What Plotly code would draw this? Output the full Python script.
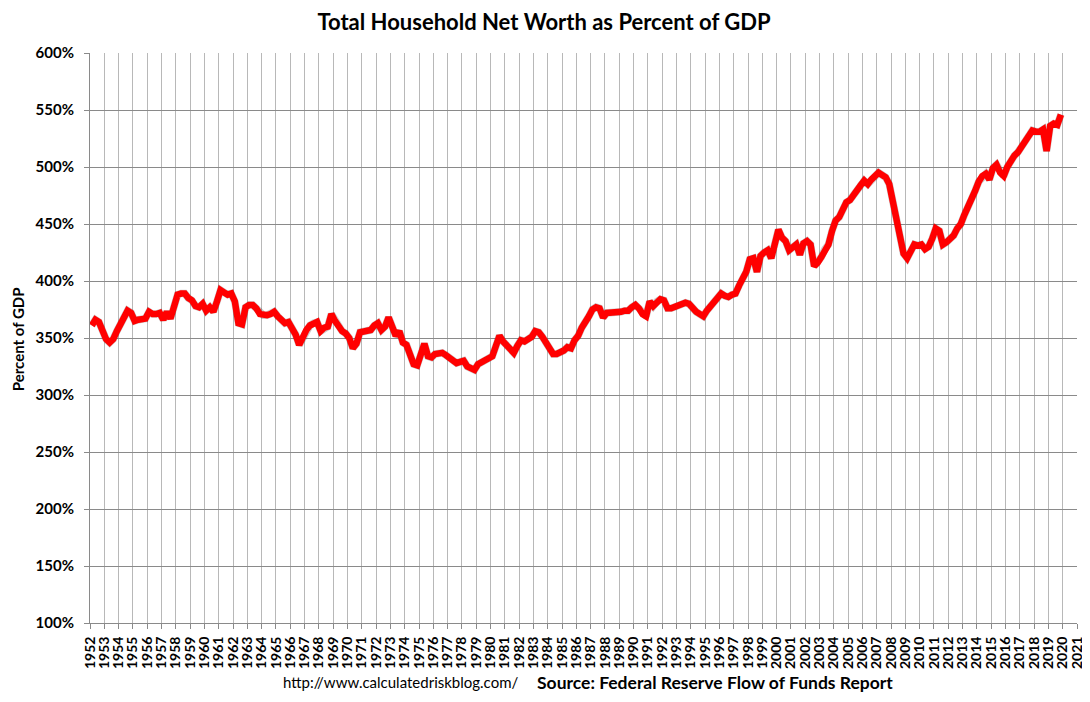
import plotly.graph_objects as go

chart_title = "Total Household Net Worth as Percent of GDP"
y_title = "Percent of GDP"
source_url = "http://www.calculatedriskblog.com/"
source_text = "Source: Federal Reserve Flow of Funds Report"

first_year = 1952
year_ticks = list(range(1952, 2022))
pct_ticks = list(range(100, 601, 50))

# quarterly values (Q1..Q4), percent of GDP
nw_1950s = [
    361, 366, 364, 355,  # 1952
    349, 346, 349, 356,
    362, 369, 374, 372,
    365, 366, 366, 367,
    373, 371, 371, 372,
    366, 373, 367, 378,
    388, 389, 389, 385,
    383, 378, 377, 380,  # 1959
]
nw_1960s = [
    374, 377, 373, 382,
    392, 390, 388, 389,
    382, 363, 362, 377,
    379, 379, 376, 371,
    370, 370, 371, 373,
    369, 365, 363, 364,
    359, 353, 344, 351,
    357, 361, 363, 364,
    356, 359, 360, 371,
    365, 360, 356, 354,
]
nw_1970s = [
    350, 341, 345, 355,
    356, 356, 357, 361,
    363, 357, 360, 368,
    360, 352, 356, 346,
    344, 336, 327, 326,
    338, 345, 334, 333,
    336, 337, 337, 335,
    333, 331, 328, 329,
    330, 325, 324, 322,
    327, 329, 331, 333,
]
nw_1980s = [
    334, 343, 352, 347,
    343, 340, 337, 343,
    348, 347, 349, 351,
    356, 355, 351, 345,
    340, 336, 336, 337,
    339, 342, 341, 348,
    352, 359, 363, 369,
    375, 377, 376, 368,
    372, 372, 373, 373,
    373, 374, 374, 377,
]
nw_1990s = [
    379, 376, 371, 369,
    382, 378, 382, 384,
    383, 376, 376, 377,
    379, 380, 381, 380,
    376, 373, 371, 369,
    374, 378, 382, 386,
    389, 387, 386, 388,
    389, 396, 401, 408,
    419, 420, 408, 422,
    425, 427, 420, 436,
]
nw_2000s = [
    445, 438, 435, 427,
    429, 432, 423, 433,
    435, 432, 413, 416,
    421, 428, 432, 444,
    453, 456, 462, 469,
    471, 476, 480, 484,
    488, 485, 489, 492,
    495, 493, 491, 485,
    470, 456, 438, 424,
    420, 425, 432, 431,
]
nw_2010s = [
    432, 428, 430, 437,
    446, 444, 432, 434,
    437, 440, 446, 450,
    458, 464, 470, 479,
    487, 492, 494, 489,
    499, 502, 495, 492,
    500, 506, 510, 513,
    518, 523, 528, 532,
    531, 531, 533, 514,
    536, 538, 537, 546,  # 2019
]

net_worth = nw_1950s + nw_1960s + nw_1970s + nw_1980s + nw_1990s + nw_2000s + nw_2010s
# points sit in the middle of each quarter
quarters = [first_year + (i + 0.5) / 4 for i in range(len(net_worth))]

FONT = "Lato, Carlito, Calibri, sans-serif"
H_GRID = "#8a8a8a"
V_GRID = "#b8b8b8"

# page body adds an 8px margin, so the figure is 8px smaller each way
W, H = 1082, 694
M_L, M_R, M_T, M_B = 82, 10, 45, 76

fig = go.Figure()

# base subplot carries the grid; an invisible copy keeps it alive
fig.add_trace(
    go.Scatter(
        x=quarters,
        y=net_worth,
        mode="lines",
        line=dict(color="#ff0000", width=1),
        opacity=0,
        hoverinfo="skip",
        showlegend=False,
    )
)

# soft drop shadow, drawn on axes nudged a few pixels right/down
fig.add_trace(
    go.Scatter(
        x=quarters,
        y=net_worth,
        mode="lines",
        line=dict(color="rgba(0,0,0,0.2)", width=7.5),
        hoverinfo="skip",
        showlegend=False,
        xaxis="x2",
        yaxis="y2",
    )
)

# the red series on top, aligned with the gridded axes
fig.add_trace(
    go.Scatter(
        x=quarters,
        y=net_worth,
        mode="lines",
        name="Net Worth / GDP",
        line=dict(color="#ff0000", width=6.5),
        showlegend=False,
        xaxis="x3",
        yaxis="y3",
    )
)

plot_w = W - M_L - M_R
plot_h = H - M_T - M_B
main_x = [0, 1 - 3 / plot_w]
main_y = [3 / plot_h, 1]

fig.update_layout(
    width=W,
    height=H,
    margin=dict(l=M_L, r=M_R, t=M_T, b=M_B),
    paper_bgcolor="white",
    plot_bgcolor="white",
    font=dict(family=FONT, color="black"),
    title=dict(
        text=chart_title,
        x=0.4954,
        xanchor="center",
        y=0.979,
        yanchor="middle",
        font=dict(size=22, family=FONT, weight="bold"),
    ),
    xaxis=dict(
        domain=main_x,
        range=[1952, 2021],
        tickvals=year_ticks,
        ticktext=[str(y) for y in year_ticks],
        tickangle=-90,
        tickfont=dict(size=14, family=FONT, weight="bold"),
        ticklabelstandoff=2,
        showgrid=True,
        gridcolor=V_GRID,
        gridwidth=1,
        ticks="outside",
        ticklen=5,
        tickcolor=H_GRID,
        showline=True,
        linecolor=H_GRID,
        zeroline=False,
        automargin=False,
    ),
    yaxis=dict(
        domain=main_y,
        range=[100, 600],
        tickvals=pct_ticks,
        ticktext=[f"{p}%" for p in pct_ticks],
        tickfont=dict(size=15, family=FONT, weight="bold"),
        ticklabelstandoff=7,
        showgrid=True,
        gridcolor=H_GRID,
        gridwidth=1,
        ticks="outside",
        ticklen=5,
        tickcolor=H_GRID,
        showline=True,
        linecolor=H_GRID,
        zeroline=False,
        automargin=False,
    ),
    xaxis2=dict(
        domain=[3 / plot_w, 1],
        range=[1952, 2021],
        overlaying="x",
        visible=False,
    ),
    yaxis2=dict(
        domain=[0, 1 - 3 / plot_h],
        range=[100, 600],
        overlaying="y",
        visible=False,
    ),
    xaxis3=dict(
        domain=main_x,
        range=[1952, 2021],
        overlaying="x",
        visible=False,
    ),
    yaxis3=dict(
        domain=main_y,
        range=[100, 600],
        overlaying="y",
        visible=False,
    ),
    annotations=[
        dict(
            text=y_title,
            xref="paper",
            yref="paper",
            x=-0.073,
            y=0.5,
            xanchor="center",
            yanchor="middle",
            textangle=-90,
            showarrow=False,
            font=dict(size=15, family=FONT, weight="bold"),
        ),
        dict(
            text=source_url,
            xref="paper",
            yref="paper",
            x=0.4343,
            y=-0.098,
            xanchor="right",
            yanchor="middle",
            showarrow=False,
            font=dict(size=15, family=FONT),
        ),
        dict(
            text=source_text,
            xref="paper",
            yref="paper",
            x=0.4495,
            y=-0.098,
            xanchor="left",
            yanchor="middle",
            showarrow=False,
            font=dict(size=17.5, family=FONT, weight="bold"),
        ),
    ],
)

fig.write_html("out.html")
